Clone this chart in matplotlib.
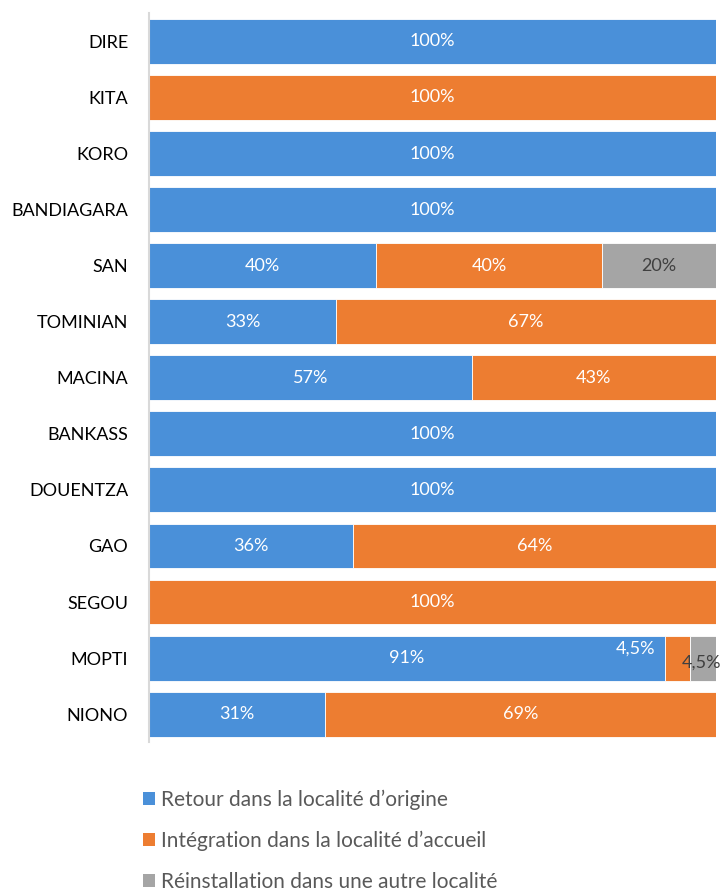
import numpy as np
import matplotlib
matplotlib.use("Agg")
import matplotlib.pyplot as plt
from matplotlib.patches import Patch

plt.rcParams['font.family'] = ['Lato', 'DejaVu Sans']

localites = ['DIRE', 'KITA', 'KORO', 'BANDIAGARA', 'SAN', 'TOMINIAN', 'MACINA',
             'BANKASS', 'DOUENTZA', 'GAO', 'SEGOU', 'MOPTI', 'NIONO']
retour = [100, 0, 100, 100, 40, 33, 57, 100, 100, 36, 0, 91, 31]
integration = [0, 100, 0, 0, 40, 67, 43, 0, 0, 64, 100, 4.5, 69]
reinstallation = [0, 0, 0, 0, 20, 0, 0, 0, 0, 0, 0, 4.5, 0]

series = [
    ("Retour dans la localité d\u2019origine", retour, '#4A90D9', 'white'),
    ("Intégration dans la localité d\u2019accueil", integration, '#ED7D31', 'white'),
    ("Réinstallation dans une autre localité", reinstallation, '#A5A5A5', '#404040'),
]

fig = plt.figure(figsize=(7.2, 8.91), dpi=100)
ax = fig.add_axes([0.207, 0.167, 0.787, 0.818])

y = np.arange(len(localites))
left = np.zeros(len(localites))
for name, vals, color, tcol in series:
    vals = np.array(vals, dtype=float)
    ax.barh(y, vals, left=left, height=0.8, color=color, edgecolor='white',
            linewidth=0.6, label=name)
    for i, v in enumerate(vals):
        if v <= 0:
            continue
        txt = (f"{v:g}%").replace('.', ',')
        cx = left[i] + v / 2
        if localites[i] == 'MOPTI' and v < 10:
            # small segments: labels pushed aside like in the original
            if color == '#ED7D31':
                ax.annotate(txt, (left[i], i), xytext=(-6.5, 6.5), textcoords='offset points',
                            ha='right', va='center', color=tcol, fontsize=13)
            else:
                ax.annotate(txt, (left[i], i), xytext=(-6, -3.6), textcoords='offset points',
                            ha='left', va='center', color=tcol, fontsize=13)
            continue
        ax.text(cx, i, txt, ha='center', va='center', color=tcol, fontsize=13)
    left += vals

ax.set_xlim(0, 100)
ax.set_ylim(len(localites) - 0.5, -0.5)
ax.set_yticks(y)
ax.set_yticklabels(localites, fontsize=13, color='#000000')
ax.tick_params(axis='y', length=0, pad=15)
ax.set_xticks([])
for s in ['top', 'right', 'bottom']:
    ax.spines[s].set_visible(False)
ax.spines['left'].set_color('#D9D9D9')
ax.spines['left'].set_linewidth(1.5)

handles = [Patch(facecolor=c, edgecolor='none') for _, _, c, _ in series]
fig.legend(handles, [s[0] for s in series], loc='upper left',
           bbox_to_anchor=(0.172, 0.135), frameon=False, fontsize=15,
           handlelength=0.6, handleheight=0.6, handletextpad=0.3,
           labelspacing=1.0, labelcolor='#595959')

fig.savefig('out.png', dpi=100)
